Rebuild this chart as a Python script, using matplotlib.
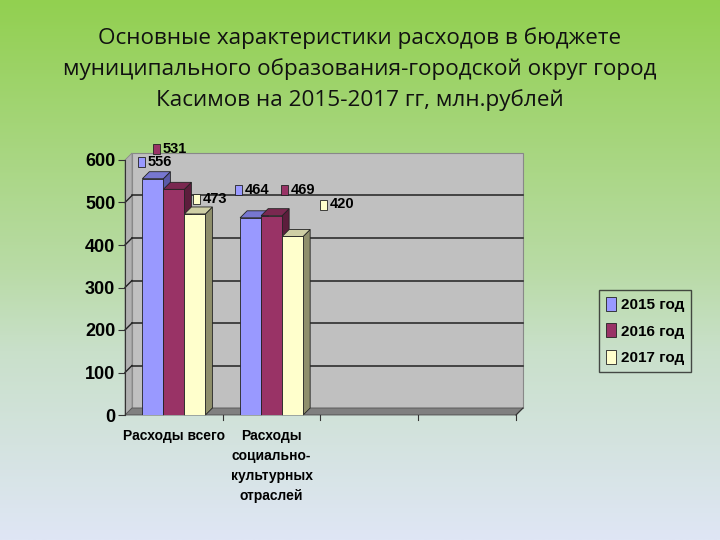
import matplotlib
matplotlib.use("Agg")
import matplotlib.pyplot as plt
from matplotlib.patches import Polygon, Rectangle
from matplotlib.colors import LinearSegmentedColormap
from matplotlib.transforms import ScaledTranslation
import numpy as np

# ── Data ──────────────────────────────────────────────────────────────────────
CATEGORIES = ["Расходы всего", "Расходы\nсоциально-\nкультурных\nотраслей", "", ""]
YEARS      = ["2015 год", "2016 год", "2017 год"]
VALUES = {
    "2015 год": [556, 464],
    "2016 год": [531, 469],
    "2017 год": [473, 420],
}
Y_TICKS = [0, 100, 200, 300, 400, 500, 600]
TITLE = ("Основные характеристики расходов в бюджете\n"
         "муниципального образования-городской округ город\n"
         "Касимов на 2015-2017 гг, млн.рублей")

# ── Style ─────────────────────────────────────────────────────────────────────
FRONT = {"2015 год": "#9999ff", "2016 год": "#993366", "2017 год": "#ffffcc"}
TOP   = {"2015 год": "#7777d0", "2016 год": "#7a2850", "2017 год": "#cfcfa5"}
SIDE  = {"2015 год": "#5a5aa8", "2016 год": "#5c1d3c", "2017 год": "#8f8f6c"}
BOLD  = ["Liberation Sans", "DejaVu Sans"]
# data-label key-box centres, pixels from each bar's top-left corner
# (Excel placed these rather oddly)
LABEL_OFFS = {
    "2015 год": [(-1, 17), (-2, 28)],
    "2016 год": [(-7, 40), (23, 26)],
    "2017 год": [(12, 15), (41, 32)],
}

fig = plt.figure(figsize=(7.2, 5.4), dpi=100)

# background gradient
bg = fig.add_axes([0, 0, 1, 1], zorder=-10)
cmap = LinearSegmentedColormap.from_list(
    "bg", [(0, "#92d050"), (0.5, "#b9dba6"), (0.65, "#c9e0ca"), (1, "#dfe6f5")])
bg.imshow(np.linspace(0, 1, 256).reshape(-1, 1), aspect="auto", cmap=cmap,
          extent=[0, 1, 0, 1])
bg.axis("off")

fig.text(0.5, 0.950, TITLE, ha="center", va="top", fontsize=16.2,
         family=["Open Sans", "DejaVu Sans"], linespacing=1.53, color="#111111")

# front plane: x 125..516 px, y 415..160 px
ax = fig.add_axes([125 / 720, 125 / 540, 391 / 720, 255 / 540])
ax.set_xlim(0, len(CATEGORIES))
ax.set_ylim(0, 600)
ax.patch.set_alpha(0)
for s in ["top", "right", "bottom"]:
    ax.spines[s].set_visible(False)
ax.spines["left"].set_color("#333333")

n = len(CATEGORIES)
dx, dy = 7 / 97.75, 7 / 0.425  # depth in data units

# walls
ax.add_patch(Rectangle((dx, dy), n, 600, facecolor="#c0c0c0",
                       edgecolor="#888888", lw=0.8, clip_on=False, zorder=0))
ax.add_patch(Polygon([(0, 0), (dx, dy), (dx, 600 + dy), (0, 600)], closed=True,
                     facecolor="#b0b0b0", edgecolor="#888888", lw=0.6,
                     clip_on=False, zorder=0))
ax.add_patch(Polygon([(0, 0), (n, 0), (n + dx, dy), (dx, dy)], closed=True,
                     facecolor="#808080", edgecolor="#555555", lw=0.6,
                     clip_on=False, zorder=0.5))
for v in Y_TICKS[1:-1]:
    ax.plot([dx, n + dx], [v + dy, v + dy], color="#222222",
            lw=1.1, zorder=0.2, clip_on=False)
    ax.plot([0, dx], [v, v + dy], color="#222222", lw=1.0, zorder=0.2,
            clip_on=False)

# 3D bars
w = 0.215
for k, yr in enumerate(YEARS):
    for i, v in enumerate(VALUES[yr]):
        x0 = i + 0.5 + (k - 1.5) * w
        z = 2 + k * 0.01
        ax.bar(x0, v, width=w, align="edge", color=FRONT[yr],
               edgecolor="#222222", lw=0.6, zorder=z)
        ax.add_patch(Polygon([(x0, v), (x0 + dx, v + dy), (x0 + w + dx, v + dy),
                              (x0 + w, v)], closed=True, facecolor=TOP[yr],
                             edgecolor="#222222", lw=0.6, zorder=z,
                             clip_on=False))
        ax.add_patch(Polygon([(x0 + w, 0), (x0 + w + dx, dy), (x0 + w + dx, v + dy),
                              (x0 + w, v)], closed=True, facecolor=SIDE[yr],
                             edgecolor="#222222", lw=0.6, zorder=z - 0.005,
                             clip_on=False))
        # data label: small key box + value
        ox, oy = LABEL_OFFS[yr][i]
        trans = fig.dpi_scale_trans + ScaledTranslation(x0, v, ax.transData)
        ax.add_patch(Rectangle(((ox - 3.5) / 100, (oy - 5) / 100), 0.07, 0.10,
                               transform=trans, facecolor=FRONT[yr],
                               edgecolor="#222222", lw=0.6, clip_on=False,
                               zorder=5))
        ax.annotate(str(v), (x0, v), xytext=(ox + 6.5, oy), textcoords="offset pixels",
                    ha="left", va="center", fontsize=10.5, fontweight="bold",
                    family=BOLD, zorder=5, annotation_clip=False)

ax.set_yticks(Y_TICKS)
ax.set_yticklabels([str(t) for t in Y_TICKS], fontsize=13, fontweight="bold",
                   family=BOLD)
ax.set_xticks([])
ax.tick_params(axis="y", length=5, color="#333333", pad=2)
# x ticks below floor
for t in range(1, n + 1):
    ax.plot([t, t], [0, -12], color="#333333", lw=0.8, clip_on=False, zorder=1)
ax.plot([0, n], [0, 0], color="#333333", lw=0.8, zorder=1)
ax.plot([n, n + dx], [0, dy], color="#333333", lw=0.8, zorder=1, clip_on=False)
for i, c in enumerate(CATEGORIES):
    ax.text(i + 0.5, -33, c, ha="center", va="top", fontsize=10,
            fontweight="bold", family=BOLD, linespacing=1.55)

# legend
handles = [Rectangle((0, 0), 1, 1, fc=FRONT[yr], ec="#222222", lw=0.6)
           for yr in YEARS]
leg = fig.legend(handles, YEARS, loc="center",
                 bbox_to_anchor=(645 / 720, 1 - 331 / 540),
                 frameon=True, prop={"family": BOLD, "weight": "bold", "size": 11},
                 handlelength=0.7, handleheight=1.0, handletextpad=0.3,
                 labelspacing=0.75, borderpad=0.45, fancybox=False)
leg.get_frame().set_edgecolor("#222222")
leg.get_frame().set_facecolor("none")
leg.get_frame().set_linewidth(1.0)

fig.savefig("out.png", dpi=100)
